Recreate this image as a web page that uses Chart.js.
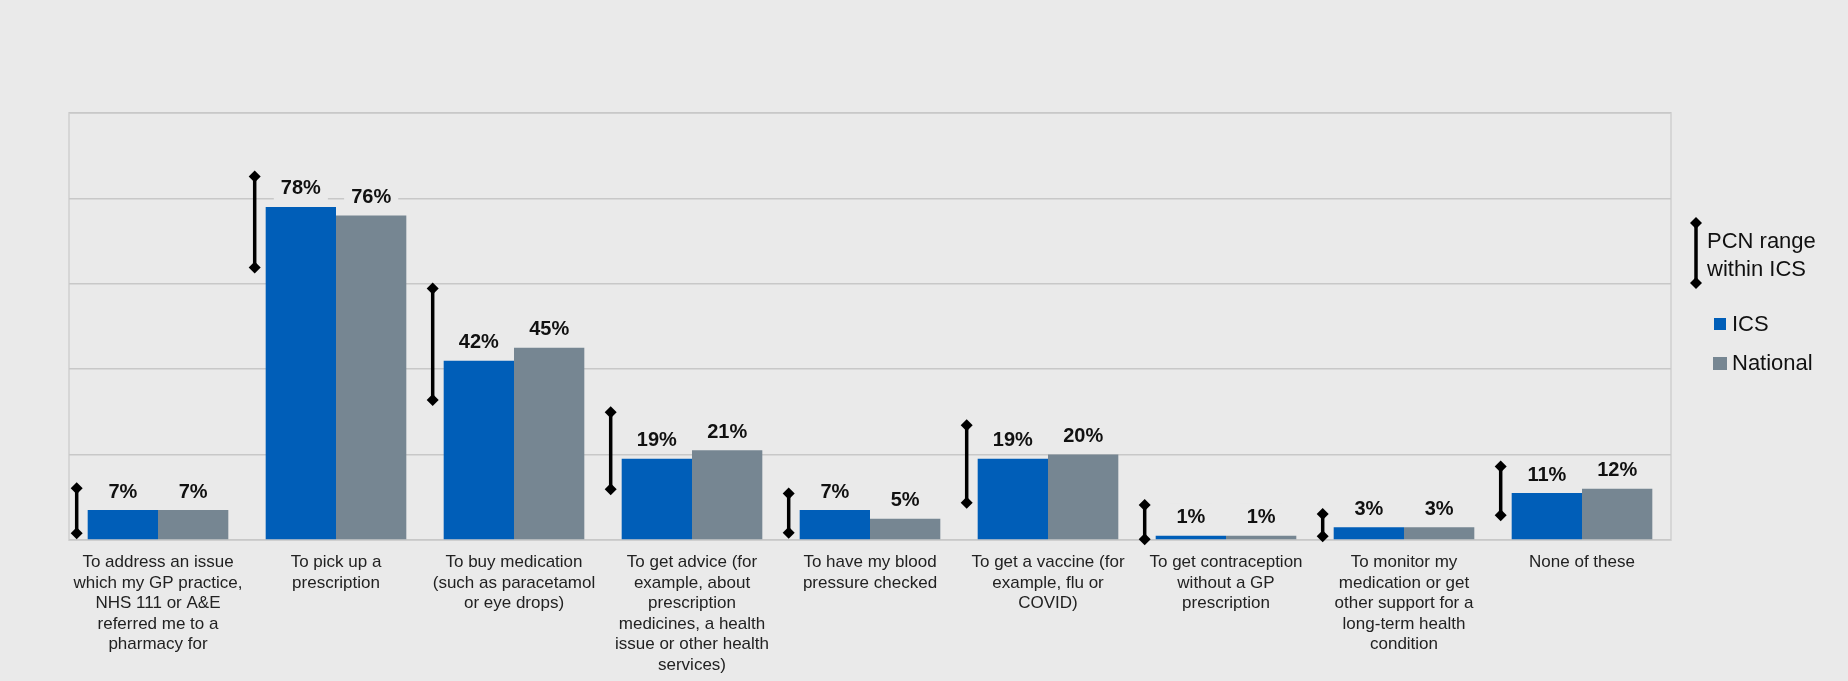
<!DOCTYPE html>
<html>
<head>
<meta charset="utf-8">
<script src="https://cdn.jsdelivr.net/npm/chart.js@4"></script>
<style>
  html, body { margin: 0; padding: 0; background: #eaeaea; }
  #wrap { width: 1848px; height: 681px; }
</style>
</head>
<body>
<div id="wrap"><canvas id="grafico"></canvas></div>
<script>
// categorias (ya partidas en lineas)
const categorias = [
  ["To address an issue", "which my GP practice,", "NHS 111 or A&E", "referred me to a", "pharmacy for"],
  ["To pick up a", "prescription"],
  ["To buy medication", "(such as paracetamol", "or eye drops)"],
  ["To get advice (for", "example, about", "prescription", "medicines, a health", "issue or other health", "services)"],
  ["To have my blood", "pressure checked"],
  ["To get a vaccine (for", "example, flu or", "COVID)"],
  ["To get contraception", "without a GP", "prescription"],
  ["To monitor my", "medication or get", "other support for a", "long-term health", "condition"],
  ["None of these"]
];

// porcentajes
const ics = [7, 78, 42, 19, 7, 19, 1, 3, 11];
const nacional = [7, 76, 45, 21, 5, 20, 1, 3, 12];

// rango PCN dentro del ICS
const pcn_min = [1.6, 63.8, 32.8, 11.9, 1.7, 8.7, 0.2, 0.9, 5.8];
const pcn_max = [12.1, 85.1, 58.9, 29.9, 10.9, 26.9, 8.2, 6.1, 17.2];

const fondo = '#eaeaea';
const azul = '#005eb8';
const gris = '#768692';

function diamante(ctx, x, y, r){
  ctx.beginPath();
  ctx.moveTo(x, y - r);
  ctx.lineTo(x + r, y);
  ctx.lineTo(x, y + r);
  ctx.lineTo(x - r, y);
  ctx.closePath();
  ctx.fill();
}

function barraError(ctx, x, y1, y2){
  ctx.save();
  ctx.strokeStyle = '#000';
  ctx.fillStyle = '#000';
  ctx.lineWidth = 3.5;
  ctx.beginPath();
  ctx.moveTo(x, y1);
  ctx.lineTo(x, y2);
  ctx.stroke();
  diamante(ctx, x, y1, 6);
  diamante(ctx, x, y2, 6);
  ctx.restore();
}

// marco del area del grafico
const marco = {
  id: 'marco',
  beforeDraw(chart){
    const ctx = chart.ctx, a = chart.chartArea;
    ctx.save();
    ctx.fillStyle = fondo;
    ctx.fillRect(0, 0, chart.width, chart.height);
    ctx.strokeStyle = '#d6d6d6';
    ctx.lineWidth = 2;
    ctx.strokeRect(a.left, a.top, a.right - a.left, a.bottom - a.top);
    ctx.restore();
  }
};

// etiquetas, barras de error y leyenda
const extras = {
  id: 'extras',
  afterDatasetsDraw(chart){
    const ctx = chart.ctx;
    const y = chart.scales.y;
    const metaIcs = chart.getDatasetMeta(0);

    // etiquetas de valores
    ctx.save();
    ctx.font = 'bold 20px "Liberation Sans", Arial, sans-serif';
    ctx.textAlign = 'center';
    ctx.textBaseline = 'middle';
    chart.data.datasets.forEach(function(ds, d){
      chart.getDatasetMeta(d).data.forEach(function(bar, i){
        const txt = ds.data[i] + '%';
        const w = ctx.measureText(txt).width + 14;
        const cy = bar.y - 19;
        ctx.fillStyle = fondo;
        ctx.fillRect(bar.x - w / 2, cy - 13, w, 26);
        ctx.fillStyle = '#111';
        ctx.fillText(txt, bar.x, cy + 1);
      });
    });
    ctx.restore();

    // rango PCN
    metaIcs.data.forEach(function(bar, i){
      const x = bar.x - bar.width / 2 - 11;
      barraError(ctx, x, y.getPixelForValue(pcn_max[i]), y.getPixelForValue(pcn_min[i]));
    });

    // leyenda
    ctx.save();
    barraError(ctx, 1696, 223, 283);
    ctx.fillStyle = '#111';
    ctx.font = '22px "Liberation Sans", Arial, sans-serif';
    ctx.textAlign = 'left';
    ctx.textBaseline = 'middle';
    ctx.fillText('PCN range', 1707, 242);
    ctx.fillText('within ICS', 1707, 270);
    ctx.fillStyle = azul;
    ctx.fillRect(1714, 318, 12, 12);
    ctx.fillStyle = gris;
    ctx.fillRect(1713, 357, 14, 13);
    ctx.fillStyle = '#111';
    ctx.fillText(chart.data.datasets[0].label, 1732, 325);
    ctx.fillText(chart.data.datasets[1].label, 1732, 364);
    ctx.restore();
  }
};

const data = {
  labels: categorias,
  datasets: [{
    label: 'ICS',
    data: ics,
    backgroundColor: azul,
    categoryPercentage: 0.79,
    barPercentage: 1.0
  },
  {
    label: 'National',
    data: nacional,
    backgroundColor: gris,
    categoryPercentage: 0.79,
    barPercentage: 1.0
  }]
};

const config = {
  type: 'bar',
  data: data,
  options: {
    responsive: true,
    maintainAspectRatio: false,
    animation: false,
    layout: {
      padding: { left: 69, right: 177, top: 113, bottom: 0 }
    },
    scales: {
      x: {
        grid: { display: false, drawTicks: false },
        border: { display: false },
        afterFit: function(scale){ scale.height = 141; },
        ticks: {
          padding: 12,
          maxRotation: 0,
          autoSkip: false,
          color: '#222',
          font: { family: '"Liberation Sans Narrow", "Liberation Sans", Arial, sans-serif', size: 17, lineHeight: 1.21 }
        }
      },
      y: {
        min: 0,
        max: 100,
        ticks: { display: false, stepSize: 20 },
        grid: { color: '#c8c8c8', lineWidth: 1.5, drawTicks: false },
        border: { display: false }
      }
    },
    plugins: {
      legend: { display: false },
      tooltip: { enabled: false }
    }
  },
  plugins: [marco, extras]
};

new Chart(document.getElementById('grafico'), config);
</script>
</body>
</html>
